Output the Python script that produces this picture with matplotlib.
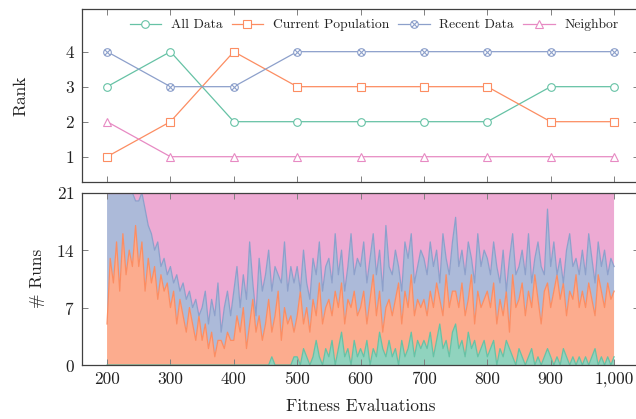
import numpy as np
import matplotlib
matplotlib.use("Agg")
import matplotlib.pyplot as plt
from matplotlib.path import Path

plt.rcParams["font.family"] = ["cmr10", "DejaVu Serif"]
plt.rcParams["mathtext.fontset"] = "cm"
plt.rcParams["axes.unicode_minus"] = False
plt.rcParams["axes.formatter.use_mathtext"] = True

# ---------------- data ----------------
rank_evals = [200, 300, 400, 500, 600, 700, 800, 900, 1000]
rank_all_data = [3, 4, 2, 2, 2, 2, 2, 3, 3]
rank_current_pop = [1, 2, 4, 3, 3, 3, 3, 2, 2]
rank_recent_data = [4, 3, 3, 4, 4, 4, 4, 4, 4]
rank_neighbor = [2, 1, 1, 1, 1, 1, 1, 1, 1]

run_evals = list(range(200, 1001, 5))
total_runs = 21
runs_all_data = [
    0, 0, 0, 0, 0, 0, 0, 0, 0, 0,
    0, 0, 0, 0, 0, 0, 0, 0, 0, 0,
    0, 0, 0, 0, 0, 0, 0, 0, 0, 0,
    0, 0, 0, 0, 0, 0, 0, 0, 0, 0,
    0, 0, 0, 0, 0, 0, 0, 0, 0, 0,
    0, 0, 1, 0, 0, 0, 0, 0, 0, 1,
    1, 0, 2, 1, 0, 1, 3, 1, 0, 2,
    1, 3, 0, 2, 4, 1, 2, 0, 3, 1,
    2, 1, 3, 0, 2, 1, 4, 2, 1, 3,
    1, 2, 0, 3, 1, 2, 4, 1, 3, 2,
    3, 2, 4, 1, 3, 5, 2, 3, 1, 4,
    5, 2, 3, 1, 4, 2, 3, 1, 2, 3,
    1, 2, 3, 0, 2, 1, 3, 2, 1, 0,
    2, 1, 0, 1, 2, 0, 1, 0, 1, 2,
    1, 0, 1, 0, 2, 1, 0, 1, 0, 1,
    0, 1, 0, 1, 2, 0, 1, 0, 1, 0,
    1,
]
runs_current_pop = [
    5, 13, 10, 15, 9, 16, 11, 14, 12, 17,
    12, 15, 9, 13, 10, 12, 8, 11, 9, 10,
    7, 9, 5, 8, 6, 4, 7, 5, 3, 6,
    3, 5, 2, 4, 1, 3, 3, 2, 4, 3,
    3, 6, 4, 7, 2, 5, 8, 4, 6, 3,
    5, 8, 3, 6, 9, 3, 7, 5, 6, 3,
    5, 9, 3, 6, 4, 7, 3, 9, 5, 5,
    7, 3, 9, 5, 6, 4, 6, 7, 6, 5,
    5, 8, 2, 8, 9, 5, 5, 2, 6, 5,
    5, 6, 10, 2, 8, 5, 7, 5, 5, 5,
    5, 4, 5, 6, 7, 3, 4, 8, 6, 5,
    4, 5, 7, 5, 4, 9, 2, 8, 5, 5,
    8, 5, 7, 5, 6, 5, 6, 2, 10, 7,
    6, 9, 6, 8, 5, 11, 7, 5, 8, 8,
    6, 9, 10, 8, 8, 5, 9, 7, 11, 6,
    9, 6, 10, 7, 4, 11, 8, 7, 9, 8,
    8,
]
runs_recent_data = [
    16, 8, 11, 6, 12, 5, 10, 7, 9, 3,
    8, 6, 10, 4, 6, 2, 7, 1, 4, 1,
    5, 1, 6, 1, 4, 4, 2, 2, 5, 0,
    4, 4, 3, 4, 5, 7, 1, 5, 5, 3,
    6, 6, 3, 4, 6, 10, 2, 2, 7, 6,
    6, 6, 5, 6, 2, 7, 8, 4, 6, 6,
    6, 0, 9, 3, 4, 5, 5, 5, 4, 5,
    5, 4, 7, 4, 4, 4, 4, 9, 2, 7,
    5, 6, 5, 5, 5, 5, 5, 5, 10, 4,
    5, 6, 2, 4, 6, 6, 5, 4, 4, 7,
    5, 5, 6, 5, 4, 2, 10, 2, 4, 6,
    9, 5, 4, 5, 7, 2, 5, 7, 5, 6,
    4, 4, 5, 7, 2, 8, 0, 9, 5, 4,
    4, 4, 5, 7, 3, 2, 7, 7, 2, 9,
    5, 6, 0, 5, 0, 8, 7, 4, 2, 4,
    5, 4, 6, 5, 4, 4, 3, 7, 1, 5,
    3,
]
runs_neighbor = [total_runs - a - c - r for a, c, r in
                 zip(runs_all_data, runs_current_pop, runs_recent_data)]

labels = ["All Data", "Current Population", "Recent Data", "Neighbor"]
colors = ["#66c2a5", "#fc8d62", "#8da0cb", "#e78ac3"]

# circle-with-cross marker
_cross = Path([(-0.707, -0.707), (0.707, 0.707), (-0.707, 0.707), (0.707, -0.707)],
              [Path.MOVETO, Path.LINETO, Path.MOVETO, Path.LINETO])
otimes = Path.make_compound_path(Path.unit_circle(), _cross)
markers = ["o", "s", otimes, "^"]

W, H = 636, 419
fig = plt.figure(figsize=(W / 100, H / 100), dpi=100)
ax_l, ax_r = 81.7, 639.4
ax1 = fig.add_axes([ax_l / W, (H - 181.7) / H, (ax_r - ax_l) / W, (181.7 - 9.3) / H])
ax2 = fig.add_axes([ax_l / W, (H - 365) / H, (ax_r - ax_l) / W, (365 - 192.7) / H])

spine_c = "#404040"
for ax in (ax1, ax2):
    for s in ax.spines.values():
        s.set_color(spine_c)
        s.set_linewidth(0.9)
    ax.tick_params(direction="in", top=True, right=True, length=4, width=0.7,
                   color="#808080", labelsize=12.5, labelcolor="#222222", pad=5)
    ax.set_xlim(160, 1040)
    ax.set_xticks(range(200, 1001, 100))

# ---------------- top: ranks ----------------
rank_series = [rank_all_data, rank_current_pop, rank_recent_data, rank_neighbor]
for vals, c, m, lab in zip(rank_series, colors, markers, labels):
    ax1.plot(rank_evals, vals, color=c, lw=0.9, marker=m, markersize=5.5,
             markerfacecolor="white", markeredgecolor=c, markeredgewidth=0.8,
             label=lab)
ax1.set_ylim(0.286, 5.21)
ax1.set_yticks([1, 2, 3, 4])
ax1.tick_params(labelbottom=False)
ax1.set_ylabel("Rank", fontsize=12.5, color="#222222")
ax1.yaxis.set_label_coords(-0.096, 0.5)
leg = ax1.legend(loc="center right", bbox_to_anchor=((618.3 - ax_l) / (ax_r - ax_l), (181.7 - 25) / 172.4),
                 ncol=4, frameon=False, fontsize=9.8, handlelength=2.3, handletextpad=0.7,
                 columnspacing=0.7, borderpad=0, borderaxespad=0)
for t in leg.get_texts():
    t.set_color("#222222")

# ---------------- bottom: runs ----------------
stack = np.array([runs_all_data, runs_current_pop, runs_recent_data, runs_neighbor])
ax2.stackplot(run_evals, stack, colors=colors, alpha=0.72, linewidth=0)
levels = np.cumsum(stack, axis=0)
for lev, c in zip(levels, colors):
    ax2.plot(run_evals, lev, color=c, lw=0.9)
ax2.set_ylim(0, 21)
ax2.set_yticks([0, 7, 14, 21])
ax2.set_xticklabels(["200", "300", "400", "500", "600", "700", "800", "900", "1,000"])
ax2.set_ylabel("# Runs", fontsize=12.5, color="#222222")
ax2.yaxis.set_label_coords(-0.066, 0.5)
ax2.set_xlabel("Fitness Evaluations", fontsize=12.5, color="#222222")
ax2.xaxis.set_label_coords(0.5, -0.197)

fig.savefig("out.png", dpi=100)
